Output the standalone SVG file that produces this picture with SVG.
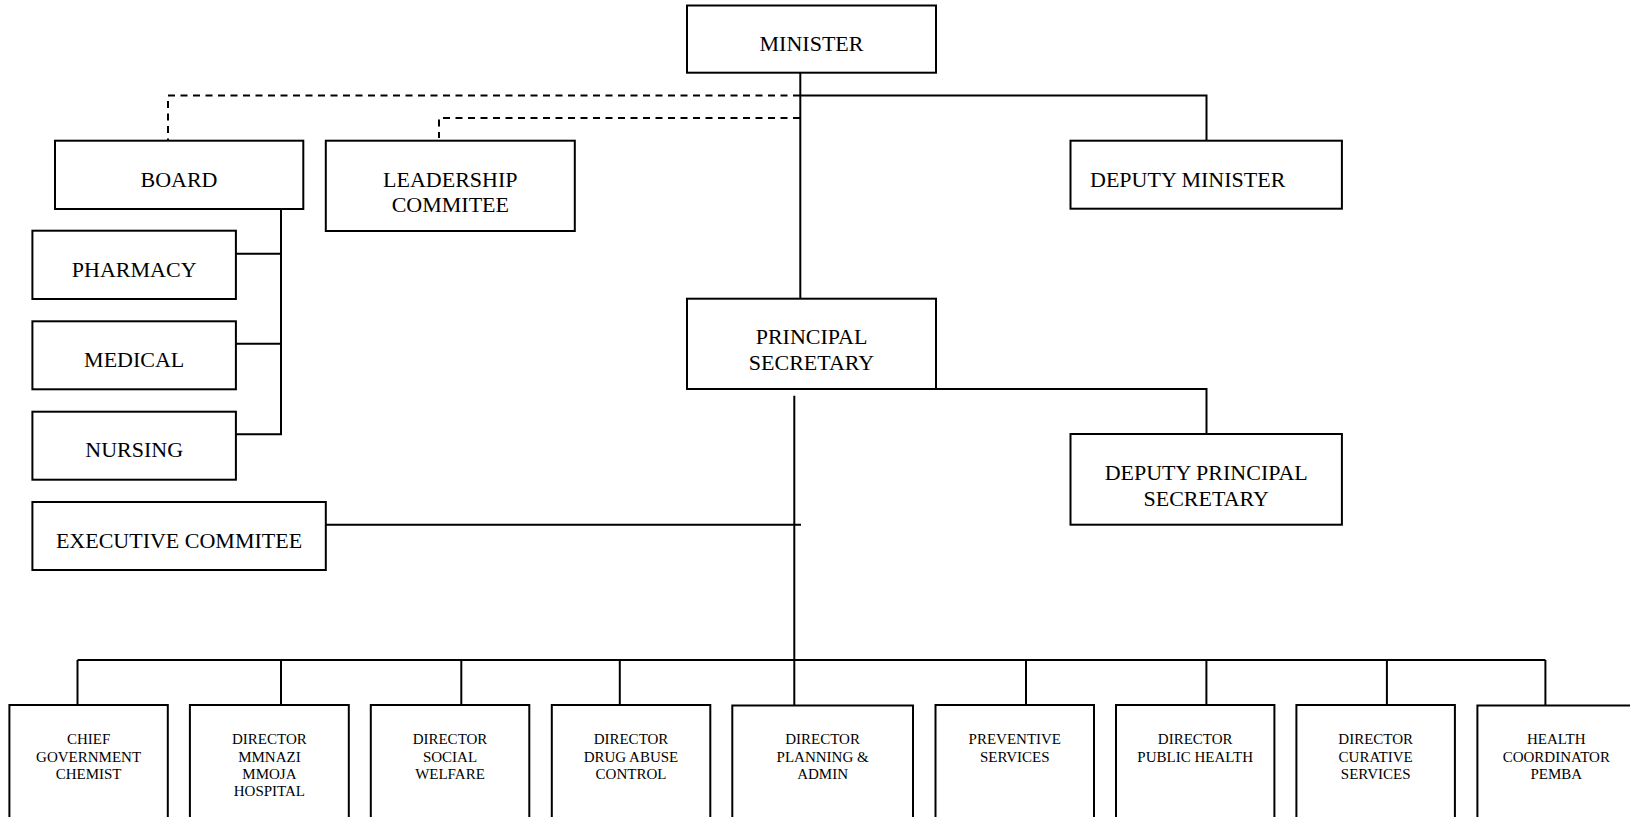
<svg xmlns="http://www.w3.org/2000/svg" width="1630" height="817" viewBox="0 0 1630 817">
<style>
rect{fill:#fff;stroke:#000;stroke-width:2}
.c line,.c polyline{stroke:#000;stroke-width:2;fill:none}
.c .d{stroke-dasharray:7 5.5}
text{font-family:"Liberation Serif","Times New Roman",serif;fill:#000;text-anchor:middle}
.L{font-size:22px}
.S{font-size:15px}
</style>
<rect x="0" y="0" width="1630" height="817" style="stroke:none"/>
<g class="c" id="connectors">
<polyline class="d" points="800,95.5 168,95.5 168,140.7"/>
<polyline class="d" points="800,118 439,118 439,138"/>
<polyline points="800,95.5 1206.5,95.5 1206.5,140.7"/>
<line x1="800.3" y1="72.7" x2="800.3" y2="298.7"/>
<polyline points="281,209 281,434.3 236,434.3"/>
<line x1="236" y1="253.7" x2="281" y2="253.7"/>
<line x1="236" y1="343.7" x2="281" y2="343.7"/>
<polyline points="936,389 1206.5,389 1206.5,434"/>
<line x1="794.3" y1="395.7" x2="794.3" y2="712"/>
<line x1="326" y1="524.7" x2="801" y2="524.7"/>
<line x1="77.5" y1="660" x2="1545.4" y2="660"/>
<line x1="77.5" y1="660" x2="77.5" y2="705"/>
<line x1="281" y1="660" x2="281" y2="705"/>
<line x1="461.3" y1="660" x2="461.3" y2="705"/>
<line x1="619.8" y1="660" x2="619.8" y2="705"/>
<line x1="1026" y1="660" x2="1026" y2="705"/>
<line x1="1206.4" y1="660" x2="1206.4" y2="705"/>
<line x1="1386.9" y1="660" x2="1386.9" y2="705"/>
<line x1="1545.4" y1="660" x2="1545.4" y2="705"/>
</g>
<g id="minister"><rect x="687" y="5.5" width="249" height="67.2"/><text class="L" x="811.5" y="50.7">MINISTER</text></g>
<g id="board"><rect x="55" y="140.7" width="248.3" height="68.3"/><text class="L" x="179" y="186.7">BOARD</text></g>
<g id="leadership"><rect x="325.8" y="140.7" width="249" height="90.3"/><text class="L" x="450.3" y="186.7">LEADERSHIP</text><text class="L" x="450.3" y="212">COMMITEE</text></g>
<g id="deputy-minister"><rect x="1070.5" y="140.7" width="271.4" height="68"/><text class="L" x="1090" y="186.7" style="text-anchor:start">DEPUTY MINISTER</text></g>
<g id="pharmacy"><rect x="32.4" y="230.7" width="203.5" height="68.3"/><text class="L" x="134.2" y="276.7">PHARMACY</text></g>
<g id="medical"><rect x="32.4" y="321.3" width="203.5" height="68"/><text class="L" x="134.2" y="366.7">MEDICAL</text></g>
<g id="nursing"><rect x="32.4" y="411.7" width="203.5" height="68"/><text class="L" x="134.2" y="457.3">NURSING</text></g>
<g id="principal-secretary"><rect x="687" y="298.7" width="249" height="90.3"/><text class="L" x="811.5" y="344">PRINCIPAL</text><text class="L" x="811.5" y="370">SECRETARY</text></g>
<g id="deputy-principal-secretary"><rect x="1070.5" y="434" width="271.4" height="90.7"/><text class="L" x="1206.2" y="480">DEPUTY PRINCIPAL</text><text class="L" x="1206.2" y="506">SECRETARY</text></g>
<g id="executive"><rect x="32.4" y="502" width="293.4" height="68"/><text class="L" x="179" y="547.7">EXECUTIVE COMMITEE</text></g>
<g id="chief-chemist"><rect x="9.4" y="705" width="158.4" height="130"/><text class="S" x="88.6" y="744.3">CHIEF</text><text class="S" x="88.6" y="761.6">GOVERNMENT</text><text class="S" x="88.6" y="779">CHEMIST</text></g>
<g id="mmnazi"><rect x="189.9" y="705" width="158.9" height="130"/><text class="S" x="269.4" y="744.3">DIRECTOR</text><text class="S" x="269.4" y="761.6">MMNAZI</text><text class="S" x="269.4" y="779">MMOJA</text><text class="S" x="269.4" y="796.3">HOSPITAL</text></g>
<g id="social-welfare"><rect x="370.8" y="705" width="158.5" height="130"/><text class="S" x="450" y="744.3">DIRECTOR</text><text class="S" x="450" y="761.6">SOCIAL</text><text class="S" x="450" y="779">WELFARE</text></g>
<g id="drug-abuse"><rect x="551.8" y="705" width="158.5" height="130"/><text class="S" x="631" y="744.3">DIRECTOR</text><text class="S" x="631" y="761.6">DRUG ABUSE</text><text class="S" x="631" y="779">CONTROL</text></g>
<g id="planning"><rect x="732.3" y="705.5" width="180.7" height="130"/><text class="S" x="822.6" y="744.3">DIRECTOR</text><text class="S" x="822.6" y="761.6">PLANNING &amp;</text><text class="S" x="822.6" y="779">ADMIN</text></g>
<g id="preventive"><rect x="935.5" y="705" width="158.5" height="130"/><text class="S" x="1014.8" y="744.3">PREVENTIVE</text><text class="S" x="1014.8" y="761.6">SERVICES</text></g>
<g id="public-health"><rect x="1116" y="705" width="158.4" height="130"/><text class="S" x="1195.2" y="744.3">DIRECTOR</text><text class="S" x="1195.2" y="761.6">PUBLIC HEALTH</text></g>
<g id="curative"><rect x="1296.4" y="705" width="158.5" height="130"/><text class="S" x="1375.7" y="744.3">DIRECTOR</text><text class="S" x="1375.7" y="761.6">CURATIVE</text><text class="S" x="1375.7" y="779">SERVICES</text></g>
<g id="pemba"><rect x="1477.4" y="705.5" width="170" height="130"/><text class="S" x="1556.3" y="744.3">HEALTH</text><text class="S" x="1556.3" y="761.6">COORDINATOR</text><text class="S" x="1556.3" y="779">PEMBA</text></g>
</svg>
